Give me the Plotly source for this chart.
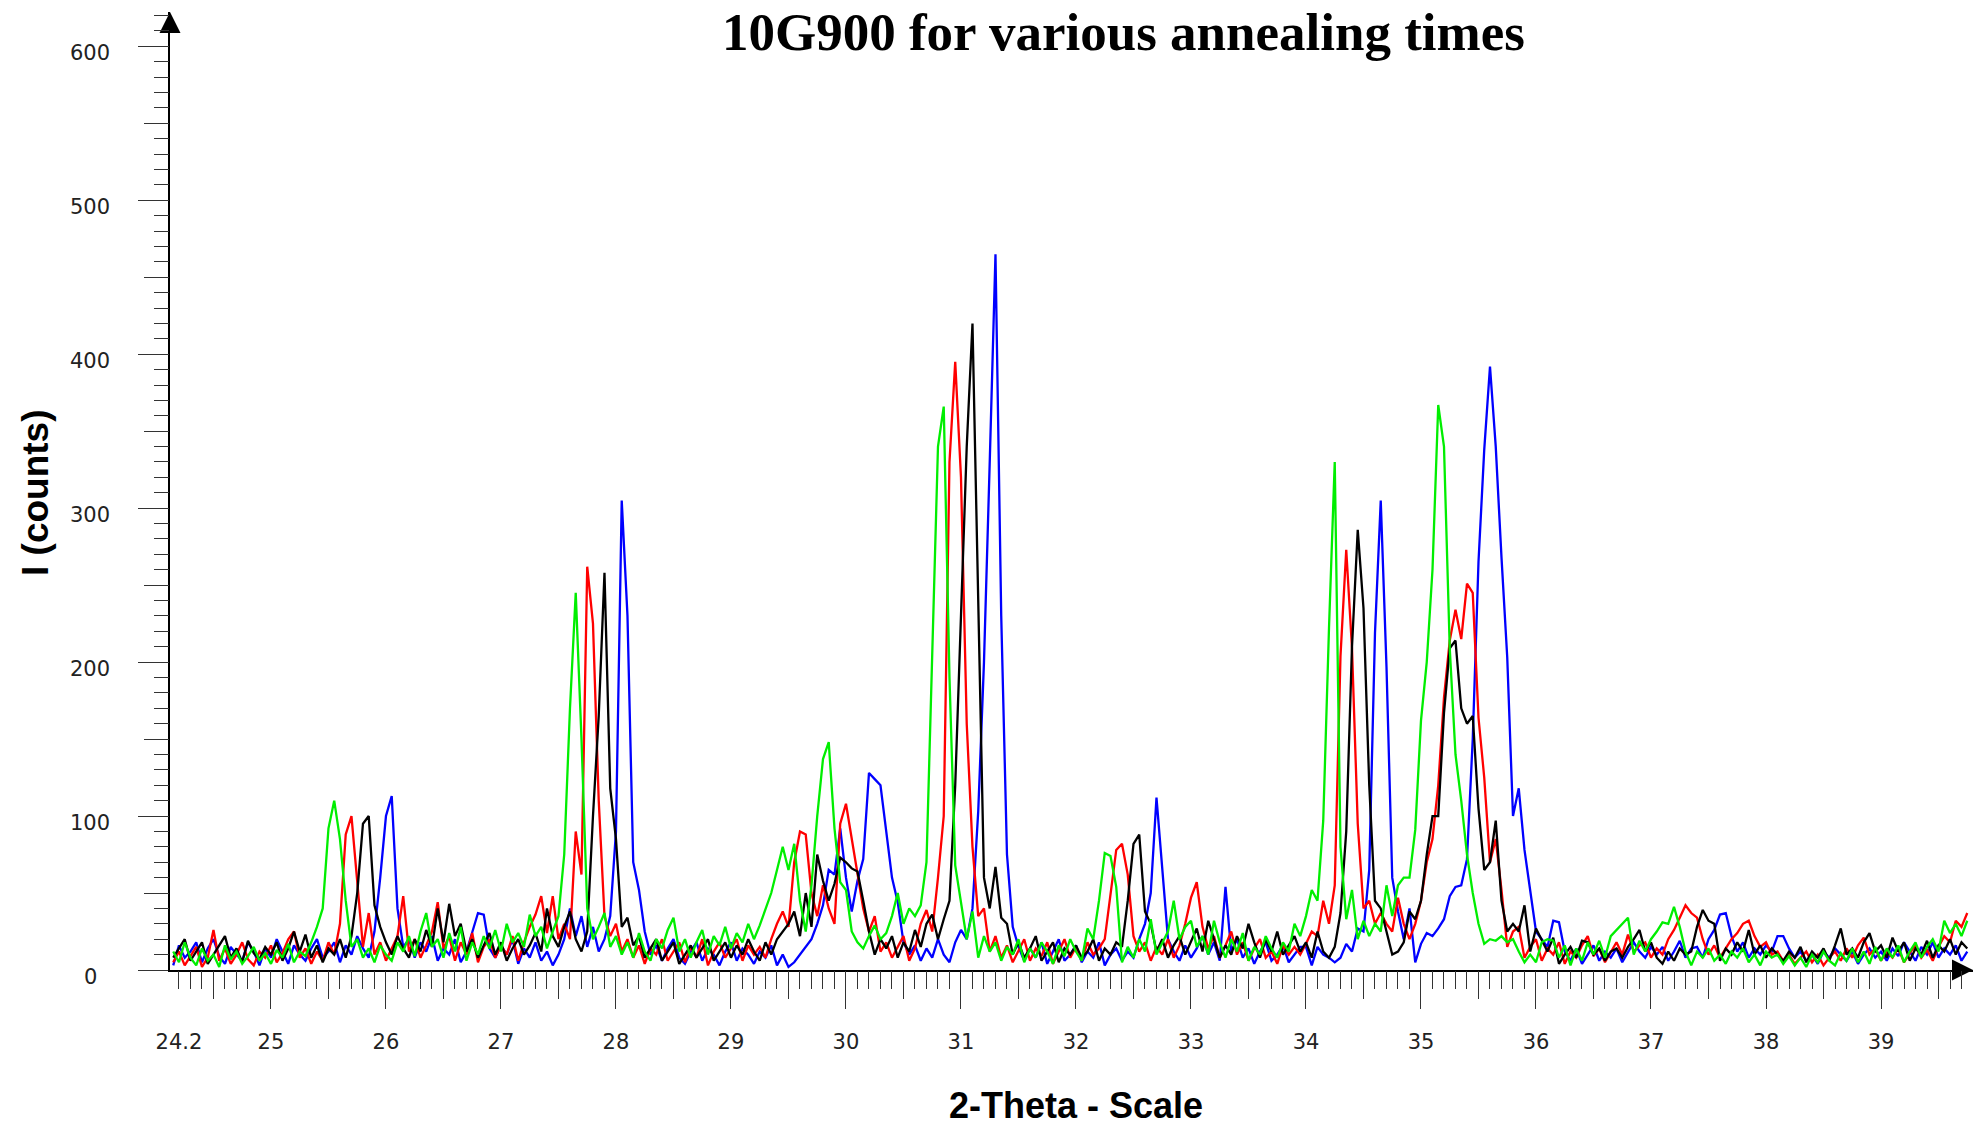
import numpy as np
import plotly.graph_objects as go

# ---------------- data (2-theta grid start/step, intensities in counts) ----------------
theta_start = 24.15
theta_step = 0.05

# one row per degree: first row 24.15-24.95, then d.00-d.95, last row 39.00-39.75
green_rows = [
    [12, 5, 18, 8, 3, 14, 6, 10, 2, 16, 7, 12, 4, 9, 15, 6, 11],
    [4, 13, 8, 17, 5, 12, 9, 18, 28, 40, 92, 110, 85, 45, 15, 20, 8, 14, 5, 16],
    [10, 6, 18, 12, 22, 9, 25, 37, 15, 20, 8, 24, 12, 28, 6, 18, 10, 22, 14, 26],
    [12, 30, 18, 24, 15, 36, 22, 28, 14, 25, 35, 75, 170, 245, 150, 40, 20, 28, 37, 15],
    [22, 10, 18, 8, 24, 12, 6, 20, 14, 26, 34, 12, 20, 8, 18, 26, 10, 22, 16, 28],
    [14, 24, 18, 30, 20, 29, 40, 50, 65, 80, 65, 82, 45, 25, 55, 100, 137, 148, 92, 57],
    [52, 25, 18, 14, 22, 29, 20, 24, 35, 50, 30, 40, 35, 42, 70, 210, 340, 366, 190, 68],
    [45, 20, 38, 8, 22, 12, 18, 6, 15, 10, 20, 5, 14, 8, 18, 12, 4, 16, 9, 20],
    [12, 6, 27, 20, 45, 76, 74, 54, 5, 15, 8, 20, 12, 33, 10, 18, 25, 45, 20, 28],
    [32, 15, 22, 10, 32, 18, 8, 20, 12, 24, 6, 15, 10, 22, 14, 8, 18, 12, 30, 22],
    [35, 52, 45, 97, 222, 330, 80, 33, 52, 20, 32, 22, 30, 25, 55, 35, 55, 60, 60, 91],
    [162, 200, 260, 367, 340, 209, 140, 110, 75, 50, 30, 17, 20, 19, 22, 18, 20, 12, 5, 10],
    [5, 18, 20, 19, 8, 16, 3, 14, 6, 18, 10, 19, 8, 22, 26, 30, 34, 10, 19, 12],
    [20, 25, 31, 30, 41, 28, 12, 3, 12, 8, 14, 6, 10, 4, 12, 8, 14, 5, 10, 3],
    [12, 8, 10, 4, 9, 3, 8, 2, 10, 5, 12, 6, 3, 11, 6, 14, 5, 12, 4, 15],
    [6, 14, 8, 16, 5, 12, 18, 8, 15, 20, 12, 32, 24, 30, 22, 32],
]

red_rows = [
    [5, 12, 3, 9, 15, 2, 8, 26, 6, 14, 4, 10, 18, 7, 3, 12, 8],
    [16, 5, 11, 20, 25, 8, 14, 4, 12, 6, 18, 10, 30, 88, 100, 60, 15, 37, 10, 18],
    [6, 14, 22, 48, 12, 20, 8, 16, 25, 44, 14, 22, 6, 18, 10, 24, 5, 15, 20, 8],
    [16, 10, 22, 6, 18, 28, 36, 48, 24, 48, 20, 30, 20, 90, 62, 262, 225, 110, 35, 22],
    [30, 12, 20, 8, 16, 4, 14, 10, 20, 6, 12, 18, 5, 15, 8, 20, 3, 12, 18, 8],
    [14, 20, 6, 16, 10, 15, 8, 20, 30, 38, 28, 70, 90, 88, 50, 35, 55, 40, 30, 95],
    [108, 85, 60, 40, 25, 35, 12, 18, 8, 15, 22, 6, 14, 30, 39, 25, 60, 100, 330, 395],
    [320, 160, 80, 35, 40, 12, 22, 8, 16, 5, 12, 20, 6, 14, 9, 18, 4, 12, 20, 8],
    [15, 6, 18, 10, 14, 20, 50, 78, 82, 62, 22, 12, 18, 6, 15, 10, 20, 8, 16, 30],
    [47, 57, 28, 14, 22, 8, 16, 25, 10, 18, 6, 14, 20, 8, 12, 4, 16, 10, 15, 10],
    [17, 25, 22, 45, 30, 55, 204, 273, 209, 95, 40, 45, 30, 37, 30, 25, 47, 30, 20, 30],
    [45, 70, 85, 120, 177, 214, 234, 215, 251, 245, 164, 125, 70, 85, 52, 15, 25, 28, 8, 15],
    [20, 6, 14, 10, 18, 4, 12, 8, 16, 22, 9, 14, 5, 12, 18, 10, 23, 12, 16, 18],
    [8, 14, 10, 20, 26, 34, 42, 37, 34, 20, 10, 16, 8, 14, 20, 24, 30, 32, 22, 15],
    [18, 10, 12, 6, 10, 4, 8, 12, 5, 10, 3, 8, 12, 6, 14, 8, 16, 21, 10, 14],
    [6, 12, 8, 14, 5, 11, 16, 8, 13, 6, 15, 22, 18, 32, 28, 37],
]

black_rows = [
    [8, 14, 20, 6, 12, 18, 4, 10, 16, 22, 8, 14, 5, 19, 11, 7, 15],
    [10, 18, 6, 14, 25, 12, 23, 8, 16, 5, 14, 10, 20, 8, 22, 50, 95, 100, 42, 28],
    [18, 10, 22, 14, 8, 20, 12, 26, 15, 40, 18, 43, 22, 30, 12, 20, 8, 16, 24, 10],
    [18, 6, 14, 20, 10, 16, 24, 12, 40, 22, 15, 28, 38, 20, 12, 25, 100, 165, 258, 118],
    [85, 28, 34, 16, 22, 8, 14, 20, 6, 12, 18, 4, 10, 16, 8, 14, 20, 6, 12, 18],
    [8, 16, 10, 20, 12, 6, 18, 10, 20, 25, 30, 38, 22, 50, 28, 75, 58, 45, 56, 73],
    [70, 66, 64, 45, 25, 10, 20, 14, 22, 8, 18, 12, 26, 15, 30, 36, 20, 33, 45, 120],
    [230, 340, 420, 250, 60, 40, 67, 34, 30, 10, 18, 8, 14, 22, 6, 12, 18, 5, 14, 10],
    [16, 8, 12, 20, 6, 14, 10, 18, 15, 45, 82, 88, 38, 30, 12, 20, 8, 16, 22, 10],
    [18, 27, 12, 32, 20, 8, 16, 10, 22, 14, 30, 18, 8, 20, 12, 25, 10, 16, 22, 12],
    [18, 8, 25, 12, 8, 15, 37, 90, 210, 286, 235, 120, 45, 40, 25, 10, 12, 18, 38, 33],
    [45, 75, 100, 100, 167, 209, 214, 170, 160, 165, 105, 65, 70, 97, 45, 25, 30, 25, 42, 12],
    [27, 20, 12, 21, 4, 10, 15, 8, 19, 18, 10, 14, 6, 12, 14, 8, 15, 20, 26, 12],
    [18, 8, 4, 12, 6, 14, 10, 12, 28, 39, 32, 30, 6, 14, 10, 18, 12, 26, 10, 16],
    [8, 14, 10, 6, 12, 8, 15, 5, 12, 8, 14, 6, 16, 27, 10, 14, 8, 18, 24, 12],
    [16, 8, 21, 12, 18, 6, 14, 10, 19, 8, 16, 12, 20, 10, 18, 14],
]

blue_rows = [
    [3, 16, 8, 12, 18, 5, 14, 20, 9, 4, 15, 10, 6, 18, 12, 3, 14],
    [8, 20, 12, 4, 16, 10, 6, 14, 20, 8, 12, 18, 5, 16, 10, 22, 14, 8, 25, 60],
    [100, 113, 40, 15, 20, 8, 18, 12, 22, 6, 14, 10, 20, 5, 12, 24, 37, 36, 14, 8],
    [16, 10, 20, 4, 14, 8, 18, 6, 12, 3, 10, 20, 40, 22, 35, 15, 28, 12, 20, 35],
    [90, 305, 230, 70, 52, 25, 10, 16, 6, 14, 20, 8, 4, 12, 18, 6, 14, 10, 3, 12],
    [18, 6, 14, 10, 4, 12, 8, 16, 3, 10, 2, 5, 10, 15, 20, 30, 42, 65, 62, 92],
    [60, 38, 58, 72, 128, 124, 120, 90, 60, 44, 18, 10, 16, 6, 14, 8, 20, 10, 5, 18],
    [26, 20, 40, 103, 200, 330, 465, 230, 75, 28, 15, 6, 14, 8, 18, 4, 12, 20, 6, 10],
    [16, 5, 12, 8, 18, 3, 10, 14, 6, 12, 8, 20, 30, 50, 112, 68, 20, 12, 6, 16],
    [8, 14, 22, 10, 18, 6, 54, 12, 20, 8, 14, 4, 12, 18, 6, 10, 16, 5, 10, 15],
    [15, 3, 15, 10, 8, 5, 8, 17, 12, 27, 25, 65, 219, 305, 197, 60, 38, 20, 40, 5],
    [17, 24, 22, 27, 33, 48, 54, 55, 72, 150, 265, 338, 392, 340, 268, 203, 100, 118, 78, 52],
    [25, 20, 15, 32, 31, 12, 6, 14, 4, 10, 16, 6, 12, 8, 14, 5, 12, 18, 12, 8],
    [15, 10, 15, 6, 12, 19, 8, 14, 15, 8, 20, 26, 36, 37, 22, 12, 18, 8, 14, 10],
    [16, 12, 22, 22, 14, 8, 12, 6, 10, 4, 12, 8, 14, 10, 6, 12, 4, 10, 14, 8],
    [12, 6, 14, 9, 18, 12, 6, 15, 10, 18, 8, 14, 10, 16, 6, 12],
]

x_label_vals = [24.2, 25, 26, 27, 28, 29, 30, 31, 32, 33, 34, 35, 36, 37, 38, 39]
x_label_text = ["24.2", "25", "26", "27", "28", "29", "30", "31", "32", "33",
                "34", "35", "36", "37", "38", "39"]
y_label_vals = [0, 100, 200, 300, 400, 500, 600]

# ---------------- build ----------------
def flatten(rows, name):
    exp = [17] + [20] * 14 + [16]
    assert len(rows) == len(exp), f"{name}: {len(rows)} rows"
    for i, (r, n) in enumerate(zip(rows, exp)):
        assert len(r) == n, f"{name} row {i}: {len(r)} != {n}"
    return [v for r in rows for v in r]

green = flatten(green_rows, "green")
red = flatten(red_rows, "red")
black = flatten(black_rows, "black")
blue = flatten(blue_rows, "blue")
n = len(green)
theta = np.round(theta_start + theta_step * np.arange(n), 2)

X_RANGE = [24.122, 39.80]
Y_RANGE = [0, 622.3]

fig = go.Figure()
for vals, col in [(blue, "#0000FF"), (red, "#FF0000"), (black, "#000000"), (green, "#00EE00")]:
    fig.add_trace(go.Scatter(x=theta, y=vals, mode="lines",
                             line=dict(color=col, width=2.3), showlegend=False,
                             hoverinfo="skip"))

# axis arrowheads at the ends of the two axes
fig.add_trace(go.Scatter(x=[X_RANGE[0], X_RANGE[1]], y=[Y_RANGE[1], Y_RANGE[0]],
                         mode="markers", cliponaxis=False, showlegend=False,
                         hoverinfo="skip",
                         marker=dict(symbol=["arrow-up", "arrow-right"], size=21,
                                     color="black", line=dict(width=0))))

# dummy traces to host tick-only overlay axes
for xa, ya in [("x2", "y"), ("x3", "y"), ("x4", "y"), ("x", "y2"), ("x", "y3")]:
    fig.add_trace(go.Scatter(x=[], y=[], xaxis=xa, yaxis=ya, showlegend=False,
                             hoverinfo="skip"))

int_ticks = list(range(25, 40))
half_ticks = [v + 0.5 for v in range(24, 40) if 24.122 < v + 0.5 < 39.8]
tenth_ticks = [round(24.2 + 0.1 * i, 1) for i in range(156)]
y_fifty = [50 + 100 * i for i in range(6)]
y_ten = [10 * i for i in range(1, 63)]

tick_common = dict(showgrid=False, zeroline=False, showline=False,
                   showticklabels=False, ticks="outside", tickwidth=1,
                   tickcolor="#333", tickmode="array")

label_font = dict(family="DejaVu Sans", size=21, color="#222")

fig.update_layout(
    width=1973, height=1128, autosize=False,
    margin=dict(l=170, r=0, t=12, b=158, pad=0),
    paper_bgcolor="white", plot_bgcolor="white",
    xaxis=dict(range=X_RANGE, showgrid=False, zeroline=False, showline=True,
               linecolor="black", linewidth=2, ticks="", tickmode="array",
               tickvals=x_label_vals, ticktext=x_label_text,
               tickfont=label_font, ticklabelstandoff=52),
    xaxis2=dict(overlaying="x", anchor="y", side="bottom", range=X_RANGE,
                tickvals=int_ticks, ticklen=38, **tick_common),
    xaxis3=dict(overlaying="x", anchor="y", side="bottom", range=X_RANGE,
                tickvals=half_ticks, ticklen=28, **tick_common),
    xaxis4=dict(overlaying="x", anchor="y", side="bottom", range=X_RANGE,
                tickvals=tenth_ticks, ticklen=18, **tick_common),
    yaxis=dict(range=Y_RANGE, showgrid=False, zeroline=False, showline=True,
               linecolor="black", linewidth=2, ticks="outside", ticklen=30,
               tickwidth=1, tickcolor="#333", tickmode="array",
               tickvals=y_label_vals, showticklabels=False),
    yaxis2=dict(overlaying="y", anchor="x", side="left", range=Y_RANGE,
                tickvals=y_fifty, ticklen=25, **tick_common),
    yaxis3=dict(overlaying="y", anchor="x", side="left", range=Y_RANGE,
                tickvals=y_ten, ticklen=15, **tick_common),
)

ann = []
for v in y_label_vals:
    ann.append(dict(text=str(v), xref="paper", yref="y", x=0, y=v, xshift=-80,
                    yshift=-7, xanchor="center", yanchor="middle", showarrow=False,
                    font=label_font))
ann.append(dict(text="10G900 for various annealing times", xref="paper", yref="paper",
                x=(1123 - 170) / 1803, y=(970 - 1) / 958, xanchor="center", yanchor="top",
                showarrow=False,
                font=dict(family="Liberation Serif", size=53, color="black", weight="bold")))
ann.append(dict(text="2-Theta - Scale", xref="paper", yref="paper",
                x=(1076 - 170) / 1803, y=(970 - 1105) / 958, xanchor="center",
                yanchor="middle", showarrow=False,
                font=dict(family="Liberation Sans", size=36, color="black", weight="bold")))
ann.append(dict(text="I (counts)", xref="paper", yref="paper",
                x=(35 - 170) / 1803, y=(970 - 493) / 958, xanchor="center",
                yanchor="middle", textangle=-90, showarrow=False,
                font=dict(family="Liberation Sans", size=37, color="black", weight="bold")))
fig.update_layout(annotations=ann)

fig.write_html("out.html")
